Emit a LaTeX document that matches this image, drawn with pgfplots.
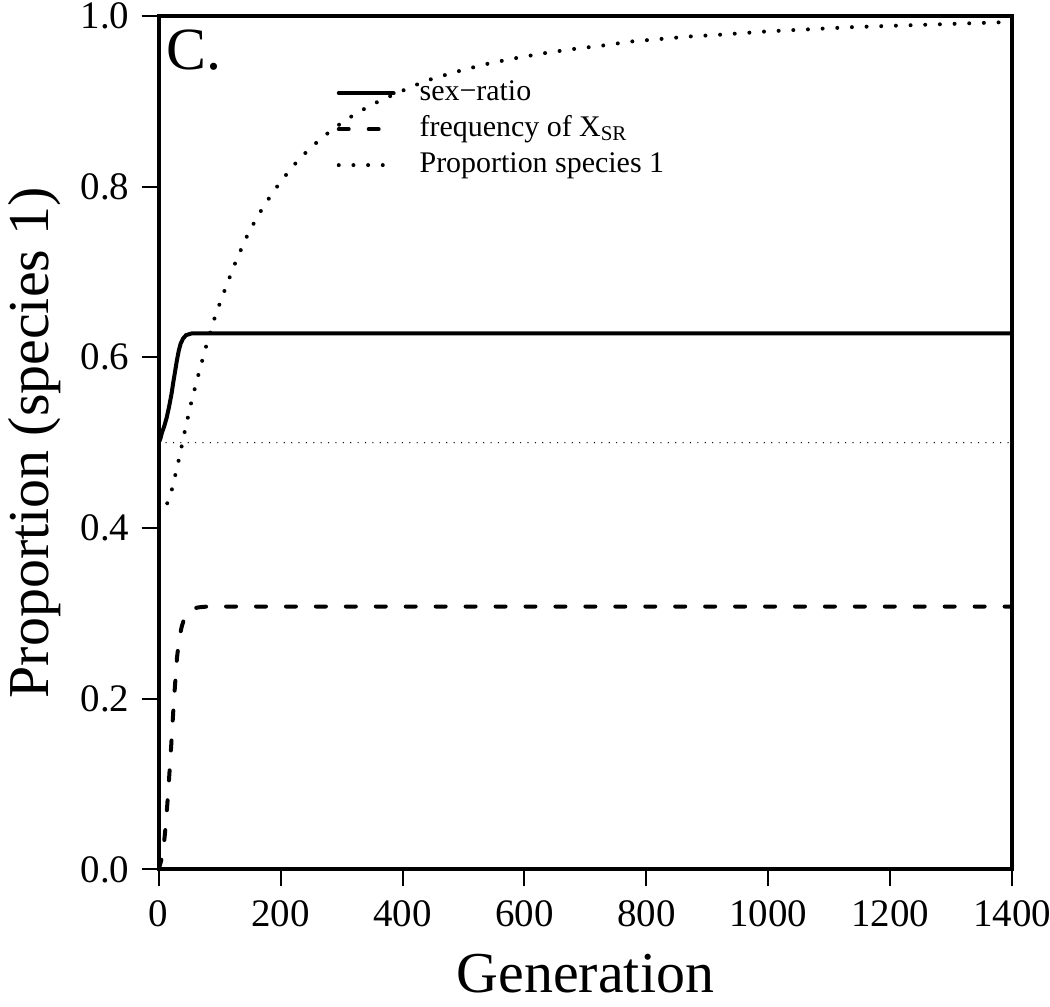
\documentclass[border=0pt]{standalone}
\usepackage{fontspec}
\setmainfont{Liberation Serif}
\usepackage{pgfplots}
\pgfplotsset{compat=1.18}
\begin{document}
\begin{tikzpicture}
\begin{axis}[
  scale only axis,
  width=427.5pt, height=427.5pt,
  xmin=0, xmax=1400, ymin=0, ymax=1,
  xtick={0,200,...,1400},
  ytick={0,0.2,...,1.0},
  xtick pos=bottom, ytick pos=left,
  tick align=outside,
  major tick length=8.5pt,
  tick style={line width=1pt, black},
  axis line style={line width=2pt},
  /pgf/number format/assume math mode=true,
  /pgf/number format/1000 sep={},
  yticklabel style={/pgf/number format/fixed, /pgf/number format/fixed zerofill, /pgf/number format/precision=1},
  tick label style={font=\fontsize{19.5}{21}\selectfont, inner sep=0pt},
  xticklabel style={yshift=-7pt},
  yticklabel style={xshift=-6pt},
  xlabel={Generation},
  ylabel={Proportion (species 1)},
  label style={font=\fontsize{29}{32}\selectfont, inner sep=0pt},
  xlabel style={at={(axis description cs:0.5,-0.1439)}, anchor=base},
  ylabel style={at={(axis description cs:-0.146,0.5)}, anchor=center},
  legend style={draw=none, fill=none, inner sep=0pt,
    at={(rel axis cs:0,1)}, anchor=north west, xshift=89pt, yshift=-31pt,
    font=\fontsize{15}{18}\selectfont, row sep=3pt, column sep=12pt,
    nodes={inner sep=0pt, text height=11pt, text depth=4pt}},
  legend cell align=left,
  legend image code/.code={\draw[#1] (0pt,0pt) -- (27.5pt,0pt);},
]
\addplot[black, line width=2pt, line cap=round] coordinates {
(0,0.500) (3,0.505) (5,0.511) (9,0.519) (13,0.529) (17,0.542) (21,0.557)
(24,0.571) (27,0.584) (30,0.597) (33,0.608) (36,0.616) (40,0.622) (45,0.626)
(54,0.628) (70,0.628) (1400,0.628)};
\addlegendentry{sex−ratio}
\addplot[black, line width=2pt, line cap=round, dash pattern=on 5pt off 10pt] coordinates {
(0,0.000) (4,0.010) (8,0.025) (12,0.055) (16,0.095) (20,0.139) (25,0.198)
(30,0.248) (34,0.272) (38,0.285) (42,0.294) (47,0.300) (54,0.305) (65,0.307)
(80,0.308) (1400,0.308)};
\addlegendentry{frequency of X\textsubscript{SR}}
\addplot[black, line width=2pt, line cap=round, dash pattern=on 0pt off 7.35pt] coordinates {
(14,0.429) (22,0.446) (33,0.480) (43,0.514) (54,0.549) (66,0.582) (79,0.616)
(93,0.649) (110,0.682) (128,0.715) (148,0.747) (172,0.777) (200,0.806)
(231,0.833) (267,0.857) (306,0.878) (349,0.896) (392,0.910) (438,0.924)
(485,0.934) (533,0.943) (581,0.950) (629,0.956) (677,0.961) (725,0.965)
(774,0.970) (823,0.973) (872,0.976) (920,0.978) (1000,0.982) (1140,0.987)
(1270,0.990) (1400,0.993)};
\addlegendentry{Proportion species 1}
\addplot[black, line width=0.7pt, line cap=round, dash pattern=on 0pt off 3.7pt, forget plot] coordinates {(0,0.5) (1400,0.5)};
\node[anchor=base west, inner sep=0pt, font=\fontsize{30}{32}\selectfont] at (rel axis cs:0,1) [xshift=3.5pt, yshift=-27pt] {C.};
\end{axis}
\pgfresetboundingbox
\path[use as bounding box] (-79.5pt,-68.5pt) rectangle (446.5pt,435.5pt);
\end{tikzpicture}
\end{document}
